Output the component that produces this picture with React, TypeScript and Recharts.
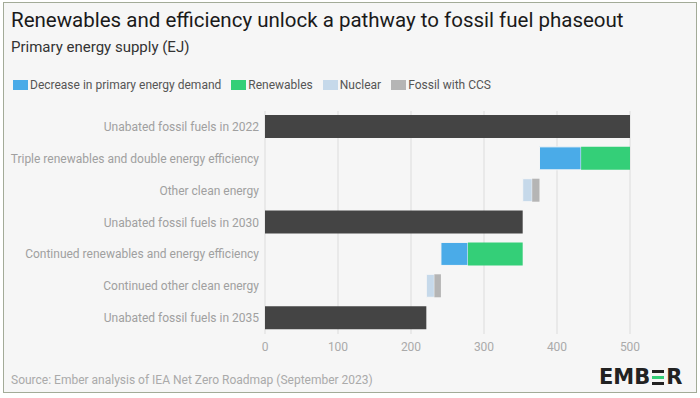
import { BarChart, Bar, XAxis, YAxis, CartesianGrid } from "recharts";

// rows, top to bottom
const categories = [
  "Unabated fossil fuels in 2022",
  "Triple renewables and double energy efficiency",
  "Other clean energy",
  "Unabated fossil fuels in 2030",
  "Continued renewables and energy efficiency",
  "Continued other clean energy",
  "Unabated fossil fuels in 2035",
];

// invisible offset so the steps float (EJ)
const baseOffset = [0, 376, 353, 0, 241, 221, 0];
const unabatedFossil = [500, 0, 0, 353, 0, 0, 221];
const demandDecrease = [0, 57, 0, 0, 37, 0, 0];
const renewables = [0, 67, 0, 0, 75, 0, 0];
const nuclear = [0, 0, 13, 0, 0, 11, 0];
const fossilCcs = [0, 0, 10, 0, 0, 9, 0];

const xTicks = [0, 100, 200, 300, 400, 500];

const data = categories.map((name, i) => ({
  name,
  base: baseOffset[i],
  fossil: unabatedFossil[i],
  decrease: demandDecrease[i],
  renewables: renewables[i],
  nuclear: nuclear[i],
  ccs: fossilCcs[i],
}));

const BG = "#f6f6f6";
const FONT = "Roboto, 'Noto Sans', sans-serif";

// legend entries in the order shown
const legendItems = [
  { name: "Decrease in primary energy demand", color: "#4aabe8" },
  { name: "Renewables", color: "#34cf78" },
  { name: "Nuclear", color: "#c6d9ea" },
  { name: "Fossil with CCS", color: "#b5b5b5" },
];

const CategoryTick = (props: any) => {
  const { x, y, payload } = props;
  return (
    <text
      x={x}
      y={y}
      dy={4}
      textAnchor="end"
      fill="#a0a0a0"
      fontSize={12}
      fontFamily={FONT}
    >
      {payload.value}
    </text>
  );
};

export default function App() {
  return (
    <div
      style={{
        position: "fixed",
        left: 0,
        top: 0,
        width: 700,
        height: 398,
        background: "#fff",
      }}
    >
      <div
        style={{
          position: "absolute",
          left: 3,
          top: 2,
          width: 692,
          height: 389,
          background: BG,
          border: "1.5px solid #a3ab98",
        }}
      />
      <div
        style={{
          position: "absolute",
          left: 11,
          top: 8,
          fontFamily: FONT,
          fontSize: 20.5,
          color: "#1a1a1a",
        }}
      >
        Renewables and efficiency unlock a pathway to fossil fuel phaseout
      </div>
      <div
        style={{
          position: "absolute",
          left: 11,
          top: 38,
          fontFamily: FONT,
          fontSize: 15,
          color: "#333",
        }}
      >
        Primary energy supply (EJ)
      </div>

      <div
        style={{
          position: "absolute",
          left: 13,
          top: 78,
          display: "flex",
          alignItems: "center",
          fontFamily: FONT,
          fontSize: 12,
        }}
      >
        {legendItems.map((it) => (
          <div key={it.name} style={{ display: "flex", alignItems: "center", marginRight: 10 }}>
            <span
              style={{
                display: "inline-block",
                width: 15,
                height: 10,
                background: it.color,
                marginRight: 2,
              }}
            />
            <span style={{ color: "#555" }}>{it.name}</span>
          </div>
        ))}
      </div>

      <div style={{ position: "absolute", left: 0, top: 0 }}>
        <BarChart
          width={700}
          height={398}
          data={data}
          layout="vertical"
          margin={{ top: 111, right: 70, bottom: 34, left: 0 }}
          barSize={23}
        >
          <CartesianGrid horizontal={false} stroke="#dcdcdc" />
          <XAxis
            type="number"
            domain={[0, 500]}
            ticks={xTicks}
            axisLine={false}
            tickLine={false}
            height={30}
            tick={{ fill: "#aaa", fontSize: 12, fontFamily: FONT }}
          />
          <YAxis
            type="category"
            dataKey="name"
            width={265}
            axisLine={false}
            tickLine={false}
            tickSize={0}
            tickMargin={6}
            interval={0}
            tick={<CategoryTick />}
          />
          <Bar dataKey="base" stackId="s" fill="transparent" isAnimationActive={false} />
          <Bar dataKey="fossil" stackId="s" fill="#444444" isAnimationActive={false} />
          <Bar
            dataKey="decrease"
            stackId="s"
            fill={legendItems[0].color}
            stroke={BG}
            strokeWidth={1}
            isAnimationActive={false}
          />
          <Bar dataKey="renewables" stackId="s" fill={legendItems[1].color} isAnimationActive={false} />
          <Bar
            dataKey="nuclear"
            stackId="s"
            fill={legendItems[2].color}
            stroke={BG}
            strokeWidth={1}
            isAnimationActive={false}
          />
          <Bar dataKey="ccs" stackId="s" fill={legendItems[3].color} isAnimationActive={false} />
        </BarChart>
      </div>

      <div
        style={{
          position: "absolute",
          left: 11,
          top: 373,
          fontFamily: FONT,
          fontSize: 12,
          color: "#aaa",
        }}
      >
        Source: Ember analysis of IEA Net Zero Roadmap (September 2023)
      </div>
      <div
        style={{
          position: "absolute",
          left: 599,
          top: 365,
          display: "flex",
          alignItems: "center",
          fontFamily: "'DejaVu Sans', sans-serif",
          fontWeight: 700,
          fontSize: 21,
          color: "#222",
        }}
      >
        <span>EMB</span>
        <span
          style={{
            display: "inline-flex",
            flexDirection: "column",
            justifyContent: "space-between",
            width: 12,
            height: 15,
            margin: "0 2px",
          }}
        >
          <span style={{ height: 3, background: "#222" }} />
          <span style={{ height: 3, background: "#34cf78" }} />
          <span style={{ height: 3, background: "#222" }} />
        </span>
        <span>R</span>
      </div>
    </div>
  );
}
